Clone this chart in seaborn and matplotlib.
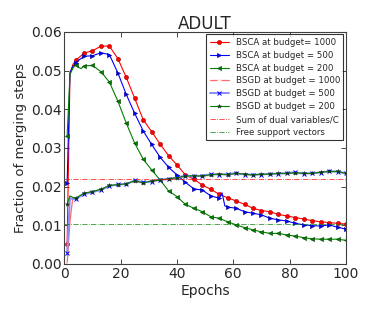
import numpy as np
import pandas as pd
import matplotlib
matplotlib.use("Agg")
import matplotlib.pyplot as plt
import seaborn as sns

sns.set_style("ticks", {"xtick.direction": "in", "ytick.direction": "in",
                        "axes.edgecolor": "0.25"})
plt.rcParams['font.family'] = ['DejaVu Sans']

# --------------------------
# Data
# --------------------------
marker_epochs = list(range(4, 101, 3))

bsca_1000_ep = [1, 2, 3] + marker_epochs
bsca_1000 = [0.0052, 0.0490, 0.0515, 0.0526, 0.0545, 0.0551, 0.0563, 0.0563, 0.0531,
             0.0482, 0.0428, 0.0373, 0.0342, 0.0310, 0.0280, 0.0256, 0.0230, 0.0219,
             0.0204, 0.0193, 0.0180, 0.0171, 0.0163, 0.0154, 0.0144, 0.0138, 0.0135,
             0.0128, 0.0124, 0.0120, 0.0116, 0.0112, 0.0109, 0.0107, 0.0105, 0.0103]

bsca_500_ep = [1, 2, 3, 4, 7, 10, 13, 16, 19, 22, 25, 28, 31, 34, 37, 40, 43, 46, 49,
               52, 55, 56, 57, 58, 61, 64, 67, 70, 73, 76, 79, 82, 85, 88, 91, 94, 97, 100]
bsca_500 = [0.0209, 0.0495, 0.0510, 0.0520, 0.0537, 0.0538, 0.0546, 0.0541, 0.0494,
            0.0438, 0.0389, 0.0344, 0.0309, 0.0276, 0.0250, 0.0230, 0.0211, 0.0194,
            0.0191, 0.0176, 0.0170, 0.0184, 0.0150, 0.0147, 0.0144, 0.0135, 0.0131,
            0.0127, 0.0118, 0.0114, 0.0111, 0.0105, 0.0101, 0.0099, 0.0098, 0.0101,
            0.0095, 0.0090]

bsca_200_ep = [1, 2, 3, 4, 5, 6] + marker_epochs[1:]
bsca_200 = [0.0331, 0.0490, 0.0505, 0.0515, 0.0508, 0.0505, 0.0512, 0.0513, 0.0497,
            0.0470, 0.0421, 0.0364, 0.0312, 0.0271, 0.0243, 0.0217, 0.0189, 0.0174,
            0.0154, 0.0144, 0.0135, 0.0122, 0.0118, 0.0109, 0.0101, 0.0094, 0.0088,
            0.0083, 0.0079, 0.0079, 0.0075, 0.0072, 0.0068, 0.0065, 0.0064, 0.0064,
            0.0064, 0.0061]

bsgd_ep = [1, 2, 3] + marker_epochs
bsgd_1000 = [0.0000, 0.0110, 0.0170, 0.0169, 0.0181, 0.0188, 0.0192, 0.0202, 0.0204,
             0.0208, 0.0214, 0.0209, 0.0215, 0.0216, 0.0221, 0.0222, 0.0226, 0.0229,
             0.0226, 0.0230, 0.0233, 0.0230, 0.0233, 0.0233, 0.0229, 0.0233, 0.0231,
             0.0235, 0.0233, 0.0235, 0.0235, 0.0233, 0.0238, 0.0238, 0.0240, 0.0233]
bsgd_500 = [0.0029, 0.0170, 0.0168, 0.0168, 0.0180, 0.0186, 0.0191, 0.0201, 0.0206,
            0.0206, 0.0216, 0.0211, 0.0213, 0.0218, 0.0219, 0.0224, 0.0228, 0.0227,
            0.0228, 0.0232, 0.0231, 0.0232, 0.0235, 0.0231, 0.0231, 0.0231, 0.0233,
            0.0233, 0.0235, 0.0237, 0.0233, 0.0235, 0.0236, 0.0240, 0.0238, 0.0235]
bsgd_200 = [0.0155, 0.0176, 0.0172, 0.0170, 0.0183, 0.0187, 0.0193, 0.0203, 0.0205,
            0.0207, 0.0215, 0.0210, 0.0214, 0.0217, 0.0220, 0.0223, 0.0227, 0.0228,
            0.0227, 0.0231, 0.0232, 0.0231, 0.0234, 0.0232, 0.0230, 0.0232, 0.0232,
            0.0234, 0.0234, 0.0236, 0.0234, 0.0234, 0.0237, 0.0239, 0.0239, 0.0234]

sum_dual_over_c = 0.0219
free_support_vectors = 0.0103


def every3(ep):
    # markers at epochs 1, 4, 7, ...
    return [i for i, e in enumerate(ep) if (e - 1) % 3 == 0]


# --------------------------
# Plot
# --------------------------
fig = plt.figure(figsize=(3.74, 3.12), dpi=100)
ax = fig.add_axes([0.172, 0.154, 0.753, 0.744])

series = [
    (bsca_1000_ep, bsca_1000, "BSCA at budget= 1000",
     dict(color="r", lw=0.8, marker="o", ms=3.0, mec="#aa0000", mew=0.4)),
    (bsca_500_ep, bsca_500, "BSCA at budget = 500",
     dict(color="b", lw=0.8, marker=">", ms=3.0, mec="#000088", mew=0.4)),
    (bsca_200_ep, bsca_200, "BSCA at budget = 200",
     dict(color="g", lw=0.8, marker="<", ms=3.0, mec="#004400", mew=0.4)),
    (bsgd_ep, bsgd_1000, "BSGD at budget = 1000",
     dict(color="#ff6a6a", lw=0.9, marker="+", ms=3, mew=0.6)),
    (bsgd_ep, bsgd_500, "BSGD at budget = 500",
     dict(color="#8c8cff", lw=1.4, marker="x", ms=2.6, mec="b", mew=0.7)),
    (bsgd_ep, bsgd_200, "BSGD at budget = 200",
     dict(color="g", lw=0.8, marker="*", ms=3.0, mfc="#113311", mec="#113311", mew=0.3)),
]

for ep, vals, label, kw in series:
    df = pd.DataFrame({"epoch": ep, "value": vals})
    sns.lineplot(data=df, x="epoch", y="value", ax=ax, label=label,
                 estimator=None, markevery=every3(ep), **kw)

ax.axhline(sum_dual_over_c, color="r", ls="-.", lw=0.6, alpha=0.8,
           label="Sum of dual variables/C")
ax.axhline(free_support_vectors, color="g", ls="-.", lw=0.6, alpha=0.8,
           label="Free support vectors")

ax.set_xlim(0, 100)
ax.set_ylim(0, 0.06)
ax.set_xticks([0, 20, 40, 60, 80, 100])
ax.set_yticks([0.0, 0.01, 0.02, 0.03, 0.04, 0.05, 0.06])
ax.set_yticklabels(["0.00", "0.01", "0.02", "0.03", "0.04", "0.05", "0.06"])
ax.tick_params(labelsize=10, top=True, right=True, length=3.5, width=0.6, pad=2)
ax.set_xlabel("Epochs", fontsize=10, labelpad=2)
ax.set_ylabel("Fraction of merging steps", fontsize=9.5, labelpad=3)
ax.set_title("ADULT", fontsize=12, pad=2)

leg = ax.legend(loc="upper right", fontsize=6.2, frameon=True, fancybox=False,
                edgecolor="k", borderaxespad=0.3, handlelength=2.2,
                labelspacing=0.45, borderpad=0.4)
leg.get_frame().set_linewidth(0.8)

fig.savefig("out.png", dpi=100)
